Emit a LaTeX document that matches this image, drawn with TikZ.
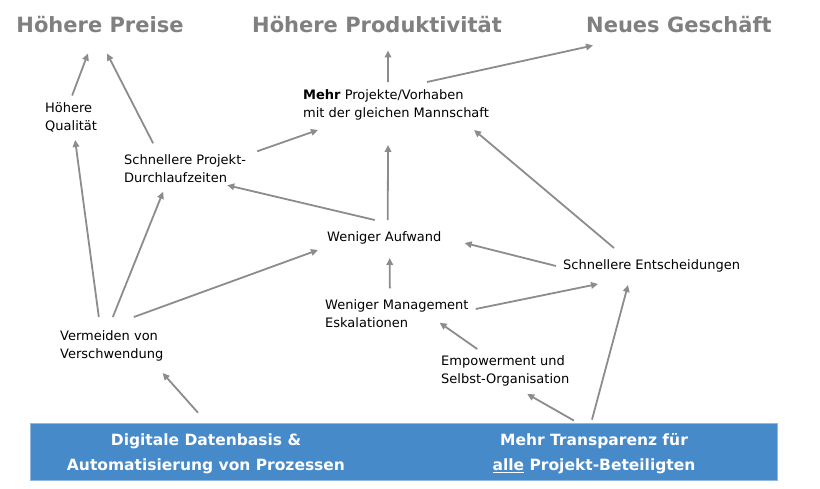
\documentclass[tikz,border=0pt]{standalone}
\usepackage{fontspec}
\setmainfont{DejaVu Sans}
\usetikzlibrary{arrows.meta}

\definecolor{headgray}{HTML}{808080}
\definecolor{arrgray}{HTML}{8C8C8C}
\definecolor{barblue}{HTML}{468AC9}

\tikzset{
  txt/.style={anchor=west, align=left, inner sep=0pt, font=\fontsize{13}{18}\selectfont},
  head/.style={inner sep=0pt, text=headgray, font=\fontsize{21}{25}\selectfont\bfseries},
  barbox/.style={fill=barblue, draw=barblue!60!white, line width=0.6pt, minimum width=747pt, minimum height=57pt, inner sep=0pt},
  bartxt/.style={align=center, inner sep=0pt, text=white, font=\fontsize{15.5}{25}\selectfont\bfseries},
  arr/.style={draw=arrgray, line width=1.8pt, -{Triangle[length=7pt,width=6.5pt]}}
}

\begin{document}
\begin{tikzpicture}[x=1pt, y=1pt]
  \useasboundingbox (0,0) rectangle (820,488);

  % Define nodes
  \node[head] (preise) at (100,463) {Höhere Preise};
  \node[head] (prod)   at (377,463) {Höhere Produktivität};
  \node[head] (neu)    at (679,463) {Neues Geschäft};

  \node[txt] (qual)   at (45,371)  {Höhere\\Qualität};
  \node[txt] (durch)  at (124,319) {Schnellere Projekt-\\Durchlaufzeiten};
  \node[txt] (mehr)   at (303,383) {\textbf{Mehr} Projekte/Vorhaben\\mit der gleichen Mannschaft};
  \node[txt] (aufw)   at (327,250) {Weniger Aufwand};
  \node[txt] (entsch) at (563,222) {Schnellere Entscheidungen};
  \node[txt] (mgmt)   at (325,174) {Weniger Management\\Eskalationen};
  \node[txt] (verm)   at (60,142)  {Vermeiden von\\Verschwendung};
  \node[txt] (empow)  at (441,117) {Empowerment und\\Selbst-Organisation};

  \node[barbox] (bar) at (403.5,36.5) {};
  \node[bartxt] (dig)    at (206,34) {Digitale Datenbasis \&\\Automatisierung von Prozessen};
  \node[bartxt] (transp) at (594,34) {Mehr Transparenz für\\\underline{alle} Projekt-Beteiligten};

  % Connect the nodes
  \draw[arr] ([shift={(1,6.5)}]qual.north)      -- ([shift={(-12,-20)}]preise.south);
  \draw[arr] ([shift={(-32,11.5)}]durch.north)  -- ([shift={(7,-20)}]preise.south);
  \draw[arr] ([shift={(11,3.5)}]durch.north east) -- ([shift={(15,-9.5)}]mehr.south west);
  \draw[arr] ([shift={(-8,7.5)}]mehr.north)     -- ([shift={(11,-17)}]prod.south);
  \draw[arr] ([shift={(31,7.5)}]mehr.north)     -- ([shift={(7,-12)}]neu.south west);

  \draw[arr] ([shift={(3.4,11.5)}]aufw.north)   -- ([shift={(-8,-24.5)}]mehr.south);
  \draw[arr] ([shift={(-9.6,11.5)}]aufw.north)  -- ([shift={(-19,-2)}]durch.south east);
  \draw[arr] ([shift={(-37.6,11.5)}]entsch.north) -- ([shift={(-15,-9.5)}]mehr.south east);
  \draw[arr] ([shift={(-7,0)}]entsch.west)      -- ([shift={(23,-5)}]aufw.east);
  \draw[arr] ([shift={(-7,11.5)}]mgmt.north)    -- ([shift={(5.4,-13.5)}]aufw.south);
  \draw[arr] ([shift={(7,5)}]mgmt.east)         -- ([shift={(-53.6,-11.5)}]entsch.south);
  \draw[arr] ([shift={(-28,6.5)}]empow.north)   -- ([shift={(-29,5.5)}]mgmt.south east);

  \draw[arr] ([shift={(-13,13.5)}]verm.north)   -- ([shift={(4,-8)}]qual.south);
  \draw[arr] ([shift={(1,13.5)}]verm.north)     -- ([shift={(-22,-8.5)}]durch.south);
  \draw[arr] ([shift={(22,13.5)}]verm.north)    -- ([shift={(-9,-5.5)}]aufw.south west);

  \draw[arr] ([shift={(-8,21)}]dig.north)       -- ([shift={(-1,-11.5)}]verm.south east);
  \draw[arr] ([shift={(-20,13)}]transp.north)   -- ([shift={(22,-7.5)}]empow.south);
  \draw[arr] ([shift={(-2,14)}]transp.north)    -- ([shift={(-23.6,-12.5)}]entsch.south);
\end{tikzpicture}
\end{document}
